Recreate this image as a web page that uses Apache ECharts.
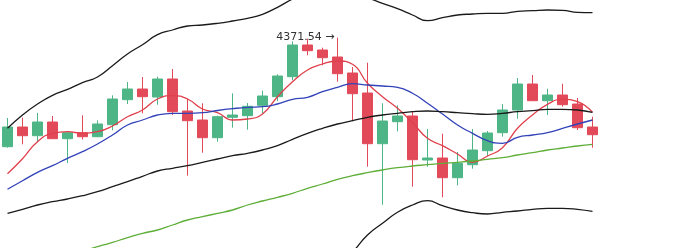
<!DOCTYPE html>
<html>
<head>
<meta charset="utf-8">
<script src="https://cdn.jsdelivr.net/npm/echarts@6/dist/echarts.min.js"></script>
<style>
html,body{margin:0;padding:0;background:#fff;}
#main{width:700px;height:248px;}
</style>
</head>
<body>
<div id="main"></div>
<script>
var categories = ['D01','D02','D03','D04','D05','D06','D07','D08','D09','D10',
  'D11','D12','D13','D14','D15','D16','D17','D18','D19','D20',
  'D21','D22','D23','D24','D25','D26','D27','D28','D29','D30',
  'D31','D32','D33','D34','D35','D36','D37','D38','D39','D40'];

// [open, close, lowest, highest]
var ohlc = [
  [3935.2, 4014, 3931.2, 4050],
  [4014, 3979.2, 3944.8, 4051.2],
  [3979.2, 4034, 3952.8, 4070],
  [4034, 3967.2, 3966, 4058],
  [3967.2, 3991.2, 3870, 3992],
  [3991.2, 3975.2, 3964, 4060.8],
  [3975.2, 4026, 3972.8, 4040.8],
  [4023.2, 4126, 4000.8, 4140.8],
  [4123.2, 4166, 4106, 4194],
  [4166, 4135.2, 4068.8, 4214],
  [4134, 4206, 4103.2, 4215.2],
  [4206, 4075.2, 4062, 4246],
  [4078, 4039.2, 3819.2, 4128],
  [4042, 3971.2, 3911.2, 4108.8],
  [3971.2, 4055.2, 3955.2, 4059.2],
  [4052.8, 4062, 4011.2, 4148.8],
  [4059.2, 4096.8, 4003.2, 4110],
  [4100.8, 4138, 4068.8, 4159.2],
  [4135.2, 4218, 4118, 4224.8],
  [4215.2, 4342, 4200.8, 4356.8],
  [4342, 4319.2, 4300.8, 4367.2],
  [4322, 4291.2, 4260.8, 4331.2],
  [4294, 4227.2, 4195.2, 4371.54],
  [4230, 4147.2, 4036.8, 4254],
  [4150, 3947.2, 3855.2, 4271.2],
  [3947.2, 4038, 3703.2, 4108.8],
  [4035.2, 4058, 3996.8, 4100.8],
  [4058, 3883.2, 3775.2, 4074],
  [3882, 3890, 3855.2, 4006],
  [3890, 3811.2, 3732.8, 3987.2],
  [3811.2, 3868.8, 3780.8, 3914],
  [3863.2, 3922, 3847.2, 4006],
  [3919.2, 3990, 3898, 3998],
  [3991.2, 4082, 3975.2, 4106],
  [4082, 4186, 4047.2, 4210],
  [4186, 4119.2, 4118, 4222],
  [4119.2, 4142, 4062, 4167.2],
  [4142, 4103.2, 4095.2, 4187.2],
  [4106, 4011.2, 4002, 4130],
  [4014, 3983.2, 3931.2, 4055.2]
];

var ma5 = [3827.2,3887.2,3955.2,3988.8,3995.2,3988.8,3995.2,4018,4055.2,4082,
  4126,4139.2,4126,4086,4071.2,4042,4046,4066,4135.2,4195.2,
  4242,4266,4278,4264.8,4188.8,4135.2,4088.8,4031.2,3968.8,3939.2,
  3906,3872.8,3898,3931.2,4008.8,4062,4104.8,4124.8,4115.2,4072.8];

var ma10 = [3764.8,3799.2,3832.8,3859.2,3888.8,3915.2,3946,3982,4022,4042,
  4062,4068.8,4068.8,4071.2,4080,4087.2,4092.8,4095.2,4106,4124.8,
  4132.8,4155.2,4172.8,4187.2,4182,4178,4172.8,4148.8,4108.8,4066,
  4022,3988.8,3959.2,3948.8,3972.8,3982,3991.2,4008.8,4026,4042];

var maLong = [3434,3450,3470,3486,3502,3518,3535.2,3552.8,3571.2,3588.8,
  3602,3622,3642,3655.2,3668.8,3682,3702,3718,3732.8,3748.8,
  3768.8,3786,3804.8,3819.2,3831.2,3842,3851.2,3858,3863.2,3868.8,
  3872.8,3878,3884.8,3891.2,3902,3911.2,3922,3930,3938,3944.8];

var bollMid = [3668.8,3684.8,3702,3715.2,3726,3739.2,3755.2,3775.2,3795.2,3816.8,
  3838,3848.8,3859.2,3872.8,3886,3899.2,3908.8,3922,3939.2,3964.8,
  3988.8,4008.8,4026,4039.2,4052.8,4062,4068.8,4075.2,4078,4075.2,
  4071.2,4067.2,4064.8,4068.8,4075.2,4079.2,4084.8,4084.8,4082,4072.8];

var bollUpper = [4008.8,4062,4106,4140.8,4164.8,4191.2,4214,4259.2,4306,4343.2,
  4383.2,4402,4418,4422,4428.8,4438,4448.8,4464.8,4492.8,4526,
  4554,4570,4570,4546,4530,4508.8,4487.2,4462,4439.2,4451.2,
  4462,4466,4468.8,4468.8,4476.8,4479.2,4482,4480.8,4472.8,4471.2];

var bollLower = [3322,3362,3394,3410,3418,3426,3430,3422,3414,3402,
  3394,3394,3394,3390,3386,3382,3378,3386,3394,3402,
  3414,3434,3462,3514,3582,3628.8,3672.8,3702,3719.2,3699.2,
  3682,3671.2,3666,3672.8,3678,3684.8,3688.8,3688.8,3684.8,3676.8];

var chart = echarts.init(document.getElementById('main'), null, {renderer: 'canvas'});

function lineSeries(name, data, color) {
  return {
    name: name, type: 'line', data: data, smooth: true,
    symbol: 'none', clip: true,
    lineStyle: {width: 1.3, color: color},
    itemStyle: {color: color},
    z: 3
  };
}

chart.setOption({
  animation: false,
  backgroundColor: '#ffffff',
  grid: {left: 0, right: 100, top: 0, bottom: 0},
  xAxis: {type: 'category', data: categories, boundaryGap: true, show: false},
  yAxis: {type: 'value', min: 3530, max: 4522, show: false, splitLine: {show: false}},
  series: [
    {
      name: 'K', type: 'candlestick', data: ohlc, barWidth: 11,
      itemStyle: {
        color: '#4eb587', color0: '#e24a5a',
        borderColor: '#4eb587', borderColor0: '#e24a5a', borderWidth: 1
      },
      markPoint: {
        symbol: 'circle', symbolSize: 0,
        data: [{type: 'max', valueDim: 'highest', name: 'highest'}],
        label: {
          show: true, position: 'left', distance: 3,
          formatter: function (p) { return p.value + ' \u2192'; },
          color: '#333', fontSize: 11, fontFamily: 'DejaVu Sans'
        }
      },
      z: 2
    },
    lineSeries('MA5', ma5, '#e0404c'),
    lineSeries('MA10', ma10, '#3242b8'),
    lineSeries('MA60', maLong, '#5eae38'),
    lineSeries('MID', bollMid, '#1a1a1a'),
    lineSeries('UPPER', bollUpper, '#1a1a1a'),
    lineSeries('LOWER', bollLower, '#1a1a1a')
  ]
});
</script>
</body>
</html>
